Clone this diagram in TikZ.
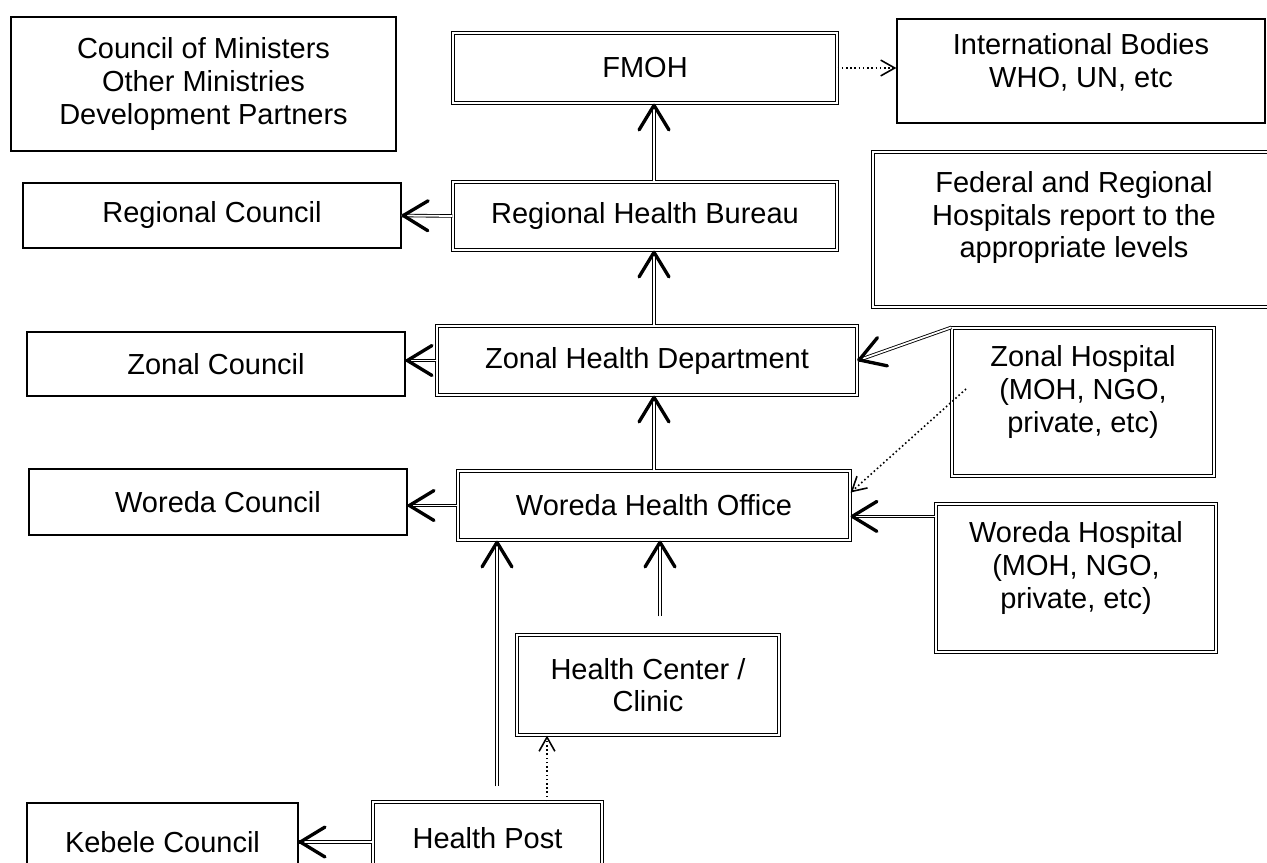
\documentclass[tikz,border=0pt]{standalone}
\usepackage{fontspec}
\setmainfont{Liberation Sans}
\usetikzlibrary{arrows.meta}
\usetikzlibrary{calc, decorations.markings}

\tikzset{
  box/.style={draw, line width=0.8pt, align=center, inner sep=2pt},
  dbox/.style={box, double, double distance=1.2pt, line width=0.7pt},
  link/.style={double, double distance=1pt, line width=0.5pt,
    decoration={markings, mark=at position 1 with {\arrow[line width=1.9pt]{Straight Barb[length=14pt,width=17pt,round]}}},
    postaction={decorate}},
  dlink/.style={line width=0.9pt, dash pattern=on 0.9pt off 1.5pt, -{Straight Barb[length=8pt,width=9pt]}},
}

\begin{document}
\begin{tikzpicture}[x=0.02cm, y=-0.02cm, font=\fontsize{16.5}{18.6}\selectfont]

    \useasboundingbox (0,0) rectangle (1267,862);

    % left column: councils
    \node[box, minimum width=7.7cm, minimum height=2.68cm] (council) at (203.5,84) {Council of Ministers\\Other Ministries\\Development Partners};
    \node[box, minimum width=7.56cm, minimum height=1.3cm] (regc) at (212,215.5) {Regional Council};
    \node[box, minimum width=7.56cm, minimum height=1.28cm] (zonc) at (216,364) {Zonal Council};
    \node[box, minimum width=7.56cm, minimum height=1.32cm] (worc) at (218,502) {Woreda Council};
    \node[box, minimum width=5.42cm, minimum height=1.56cm] (kebc) at (162.5,842) {Kebele Council};

    % middle column: health offices
    \node[dbox, minimum width=7.68cm, minimum height=1.4cm] (fmoh) at (645,68) {FMOH};
    \node[dbox, minimum width=7.68cm, minimum height=1.36cm] (rhb) at (645,216) {Regional Health Bureau};
    \node[dbox, minimum width=8.4cm, minimum height=1.38cm] (zhd) at (647,360.5) {Zonal Health Department};
    \node[dbox, minimum width=7.84cm, minimum height=1.38cm] (who) at (654,505.5) {Woreda Health Office};
    \node[dbox, minimum width=5.24cm, minimum height=2cm] (hc) at (648,685) {Health Center /\\Clinic};
    \node[dbox, minimum width=4.58cm, minimum height=1.44cm] (hpost) at (487.5,838) {Health Post};

    % right column
    \node[box, minimum width=7.36cm, minimum height=2.08cm, text depth=12pt] (intl) at (1081,71) {International Bodies\\WHO, UN, etc};
    \node[dbox, minimum width=8.04cm, minimum height=3.1cm, text depth=17pt] (fedh) at (1074,229.5) {Federal and Regional\\Hospitals report to the\\appropriate levels};
    \node[dbox, minimum width=5.24cm, minimum height=2.96cm, text depth=15pt] (zhosp) at (1083,402) {Zonal Hospital\\(MOH, NGO,\\private, etc)};
    \node[dbox, minimum width=5.6cm, minimum height=2.96cm, text depth=15pt] (worh) at (1076,578) {Woreda Hospital\\(MOH, NGO,\\private, etc)};

    \coordinate (zhdot) at (966,389);

    % reporting lines
    \draw[link] (rhb.north -| who.north) -- (fmoh.south -| who.north);
    \draw[dlink] (fmoh.east) -- (fmoh.east -| intl.west);
    \draw[link] (rhb.west) -- (regc.east);
    \draw[link] (zhd.north -| who.north) -- (rhb.south -| who.north);
    \draw[link] (zhd.west) -- (zhd.west -| zonc.east);
    \draw[link] (zhosp.north west) -- (zhd.east);
    \draw[dlink] (zhdot) -- ($(who.east)+(0,-13)$);
    \draw[link] (who.north) -- (who.north |- zhd.south);
    \draw[link] (who.west) -- (who.west -| worc.east);
    \draw[link] ([yshift=-0.26cm]worh.north west) -- ([yshift=-0.26cm]worh.north west -| who.east);
    \draw[link, shorten <=0.36cm] ([xshift=0.24cm]hc.north) -- ([xshift=0.24cm]hc.north |- who.south);
    \draw[link, shorten <=0.3cm] ([xshift=0.19cm]hpost.north) -- ([xshift=0.19cm]hpost.north |- who.south);
    \draw[dlink] ([xshift=1.19cm]hpost.north) -- ([xshift=1.19cm]hpost.north |- hc.south);
    \draw[link] (hpost.west |- kebc.east) -- (kebc.east);

\end{tikzpicture}
\end{document}
